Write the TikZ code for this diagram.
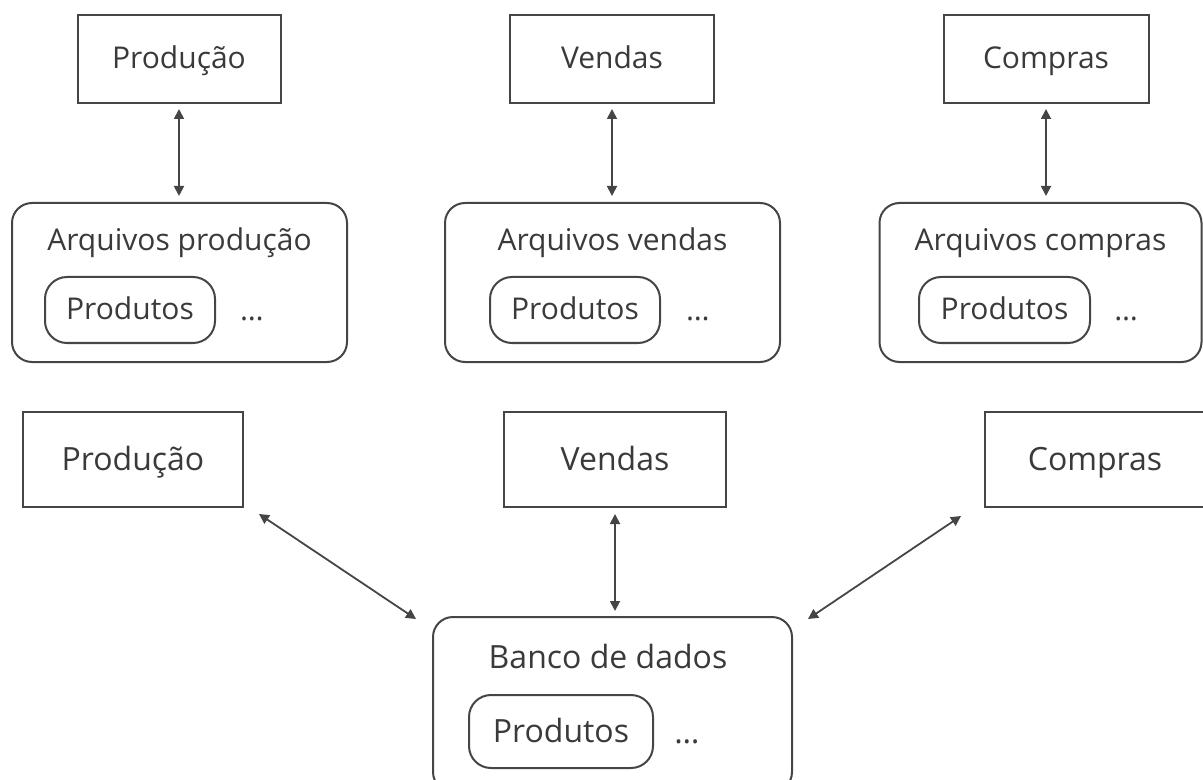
\documentclass[tikz,border=0pt]{standalone}
\usepackage{fontspec}
\setmainfont{Open Sans}
\usetikzlibrary{arrows.meta}
\definecolor{inkgray}{HTML}{454545}
\definecolor{textgray}{HTML}{3A3A3A}
\begin{document}
\begin{tikzpicture}[x=0.5pt,y=-0.5pt,
	font=\fontsize{15}{18}\selectfont, text height=10.7pt, text depth=1.5pt,
	dbtext/.style={font=\fontsize{16}{19}\selectfont, text height=11.5pt, text depth=0.8pt},
	sector/.style={draw=inkgray, line width=1pt, text=textgray, inner sep=0pt},
	filebox/.style={draw=inkgray, line width=1pt, rounded corners=10pt, inner sep=0pt},
	itembox/.style={draw=inkgray, line width=1pt, rounded corners=11pt, inner sep=0pt, text=textgray},
	caption/.style={text=textgray, inner sep=0pt},
	link/.style={{Triangle[length=5pt,width=5pt]}-{Triangle[length=5pt,width=5pt]}, draw=inkgray, line width=0.9pt}]
	\useasboundingbox (0,0) rectangle (1203,780);
	% Separate files: departments
	\node[sector, minimum width=101.5pt, minimum height=44pt] (prodA) at (179,59) {Produção};
	\node[sector, minimum width=102pt, minimum height=44pt] (vendA) at (612,59) {Vendas};
	\node[sector, minimum width=102.5pt, minimum height=44pt] (compA) at (1046,59) {Compras};
	% Separate files: file groups
	\node[filebox, minimum width=167.5pt, minimum height=79.5pt] (filesP) at (179.5,282.5) {};
	\node[filebox, minimum width=167.5pt, minimum height=79.5pt] (filesV) at (612.5,282.5) {};
	\node[filebox, minimum width=161pt, minimum height=79.5pt] (filesC) at (1040.5,282.5) {};
	\node[caption] (titleP) at (179.5,241) {Arquivos produção};
	\node[caption] (titleV) at (612.5,241) {Arquivos vendas};
	\node[caption] (titleC) at (1040.5,241) {Arquivos compras};
	\node[itembox, minimum width=85pt, minimum height=33pt] (itemP) at (130,310) {Produtos};
	\node[itembox, minimum width=85pt, minimum height=33pt] (itemV) at (575,310) {Produtos};
	\node[itembox, minimum width=85.5pt, minimum height=33pt] (itemC) at (1004.5,310) {Produtos};
	\node[caption] (dotsP) at (252,311) {…};
	\node[caption] (dotsV) at (698,311) {…};
	\node[caption] (dotsC) at (1126,311) {…};
	% Links to the files
	\draw[link] ([yshift=-2.5pt]prodA.south) -- ([yshift=3pt]prodA.south |- filesP.north);
	\draw[link] ([yshift=-2.5pt]vendA.south) -- ([yshift=3pt]vendA.south |- filesV.north);
	\draw[link] ([yshift=-2.5pt]compA.south) -- ([yshift=3pt]compA.south |- filesC.north);
	% Database: departments
	\node[sector, dbtext, minimum width=110pt, minimum height=47.5pt] (prodB) at (133,459.5) {Produção};
	\node[sector, dbtext, minimum width=111pt, minimum height=47.5pt] (vendB) at (615,459.5) {Vendas};
	\node[sector, dbtext, minimum width=110pt, minimum height=47.5pt] (compB) at (1095,459.5) {Compras};
	% Database
	\node[filebox, minimum width=179.5pt, minimum height=87.5pt] (banco) at (612.5,704.5) {};
	\node[caption, dbtext] (titleB) at (608,658) {Banco de dados};
	\node[itembox, dbtext, minimum width=92pt, minimum height=36.5pt] (itemB) at (561,731.5) {Produtos};
	\node[caption, dbtext] (dotsB) at (687,733) {…};
	% Links to the database
	\draw[link] ([shift={(15,6)}]prodB.south east) -- ([shift={(-16,3)}]banco.north west);
	\draw[link] ([yshift=-3pt]vendB.south) -- ([yshift=2.5pt]vendB.south |- banco.north);
	\draw[link] ([shift={(-23,8)}]compB.south west) -- ([shift={(15,3)}]banco.north east);
\end{tikzpicture}
\end{document}
